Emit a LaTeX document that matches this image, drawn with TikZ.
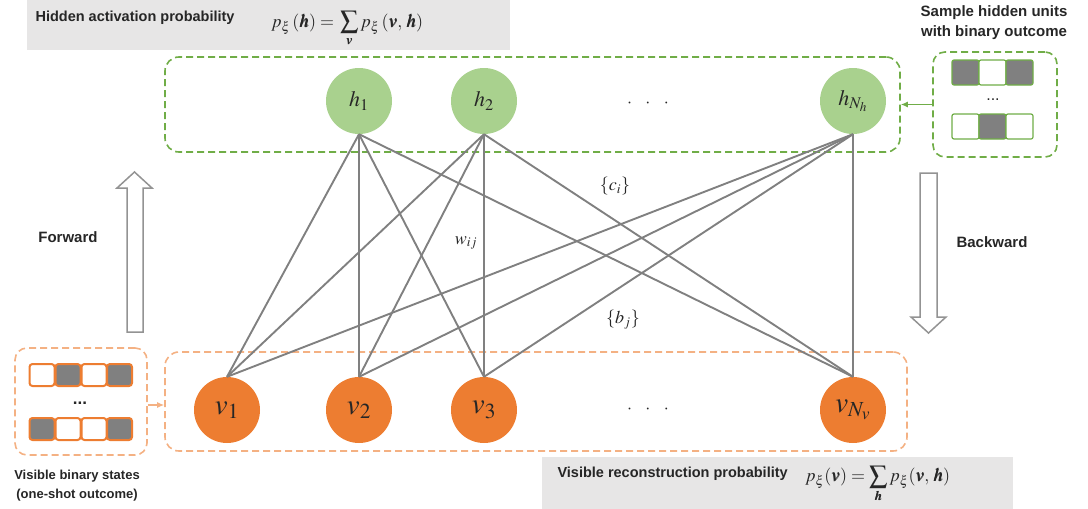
\documentclass[tikz,border=0pt]{standalone}
\usepackage{mathptmx}
\usepackage{amsmath}
\usepackage{bm}
\usepackage[no-math]{fontspec}
\setsansfont{Liberation Sans}
\usetikzlibrary{arrows.meta}

\definecolor{hgreen}{HTML}{70AD47}
\definecolor{hfill}{HTML}{A9D18E}
\definecolor{vorange}{HTML}{ED7D31}
\definecolor{vlight}{HTML}{F4B183}
\definecolor{boxgray}{HTML}{E7E6E6}
\definecolor{edgegray}{HTML}{808080}
\definecolor{inkgray}{HTML}{262626}

\begin{document}
\begin{tikzpicture}[x=1pt,y=-1pt,
  hunit/.style={circle, fill=hfill, minimum size=66pt, inner sep=0pt, text=inkgray, font=\fontsize{22}{24}\selectfont},
  vunit/.style={circle, fill=vorange, minimum size=66pt, inner sep=0pt, text=inkgray, font=\fontsize{29}{31}\selectfont},
  weight/.style={edgegray, line width=1.9pt},
  layerbox/.style={rounded corners=14pt, line width=1.6pt, dash pattern=on 7pt off 4pt, inner sep=0pt},
  probbox/.style={fill=boxgray, inner sep=0pt},
  caption/.style={text=inkgray, align=center, font=\sffamily\bfseries\fontsize{14.5}{17}\selectfont},
  formula/.style={text=inkgray, anchor=west, inner sep=0pt, font=\fontsize{18}{21}\selectfont},
  param/.style={text=inkgray, font=\fontsize{18}{20}\selectfont},
  hcell/.style={draw=hgreen, line width=1.2pt, rounded corners=2pt},
  vcell/.style={draw=vorange, line width=2pt, rounded corners=3pt},
  hollow/.style={draw=edgegray!85, line width=1.5pt, fill=white}
]
\useasboundingbox (0,0) rectangle (1088,509);

% probability boxes
\node[probbox, minimum width=483pt, minimum height=50pt] (hidprob) at (268.5,25) {};
\node[caption, anchor=west] (hidprobtext) at (32,18) {Hidden activation probability};
\node[formula] (hidprobeq) at (271,29) {$\displaystyle p_{\xi}\,(\bm{h}) = \,\sum_{\bm{v}} p_{\xi}\,(\bm{v},\, \bm{h})$};

\node[probbox, minimum width=471pt, minimum height=52pt] (visprob) at (777.5,483) {};
\node[caption, anchor=west] (visprobtext) at (554,474) {Visible reconstruction probability};
\node[formula] (visprobeq) at (805,484) {$\displaystyle p_{\xi}(\bm{v}) = \sum_{\bm{h}} p_{\xi}(\bm{v},\, \bm{h})$};

% layer boxes
\node[layerbox, draw=hgreen, minimum width=735pt, minimum height=95pt] (hidlayer) at (532.5,104.5) {};
\node[layerbox, draw=vlight, minimum width=742pt, minimum height=99pt] (vislayer) at (536,401.5) {};

% units
\node[hunit] (h1) at (359,101) {$h_1$};
\node[hunit] (h2) at (484,101) {$h_2$};
\node[hunit] (hN) at (853,101) {$h_{N_h}$};
\node[param] (hdots) at (648,104) {$\cdot\ \ \cdot\ \ \cdot$};

\node[vunit] (v1) at (227,410) {$v_1$};
\node[vunit] (v2) at (359,410) {$v_2$};
\node[vunit] (v3) at (484,410) {$v_3$};
\node[vunit] (vN) at (853,410) {$v_{N_v}$};
\node[param] (vdots) at (648,410) {$\cdot\ \ \cdot\ \ \cdot$};

% weights
\foreach \h in {h1,h2,hN}
  \foreach \v in {v1,v2,v3,vN}
    \draw[weight] (\h.south) -- (\v.north);

\node[param] (cbias) at (615,186) {$\{c_i\}$};
\node[param] (wij) at (466,243) {$w_{ij}$};
\node[param] (bbias) at (623,320) {$\{b_j\}$};

% sampled hidden states
\node[caption, font=\sffamily\bfseries\fontsize{15}{20}\selectfont] (sampletext) at (994,23) {Sample hidden units\\with binary outcome};
\node[layerbox, draw=hgreen, rounded corners=12pt, minimum width=124pt, minimum height=105pt] (samplebox) at (995,104.5) {};
\foreach \x/\c in {965.5/edgegray, 992.5/white, 1019.5/edgegray}
  \draw[hcell, fill=\c] (\x-13.5,60) rectangle ++(27,25);
\foreach \x/\c in {965.5/white, 992.5/edgegray, 1019.5/white}
  \draw[hcell, fill=\c] (\x-13.5,114) rectangle ++(27,25);
\node[text=inkgray, font=\sffamily\fontsize{16}{18}\selectfont] (sampledots) at (993,100) {...};
\draw[hgreen, line width=1.2pt, -{Latex[length=7pt,width=6pt]}] (samplebox.west) -- (hidlayer.east);

% visible binary states
\node[layerbox, draw=vlight, rounded corners=12pt, minimum width=132pt, minimum height=107pt] (statebox) at (81,401.5) {};
\foreach \x/\c in {42/white, 68/edgegray, 94/white, 119.5/edgegray}
  \draw[vcell, fill=\c] (\x-12.5,364) rectangle ++(25,22);
\foreach \x/\c in {42/edgegray, 68/white, 94/white, 119.5/edgegray}
  \draw[vcell, fill=\c] (\x-12.5,418) rectangle ++(25,22);
\node[text=inkgray, font=\sffamily\bfseries\fontsize{17}{18}\selectfont] (statedots) at (80,403) {...};
\node[caption, font=\sffamily\bfseries\fontsize{13}{19}\selectfont] (statetext) at (77,486) {Visible binary states\\(one-shot outcome)};
\draw[vlight, line width=1.2pt, -{Latex[length=7pt,width=6pt]}] (statebox.east |- 0,405) -- (vislayer.west |- 0,405);

% forward / backward
\draw[hollow] (127,332) -- (127,188) -- (117,188) -- (134.5,172) -- (152,188) -- (143,188) -- (143,332) -- cycle;
\node[caption, font=\sffamily\bfseries\fontsize{15}{17}\selectfont] (fwd) at (68,237) {Forward};
\draw[hollow] (920,173) -- (937,173) -- (937,317) -- (946,317) -- (928.5,333) -- (911,317) -- (920,317) -- cycle;
\node[caption, font=\sffamily\bfseries\fontsize{15}{17}\selectfont] (bwd) at (992,242) {Backward};
\end{tikzpicture}
\end{document}
